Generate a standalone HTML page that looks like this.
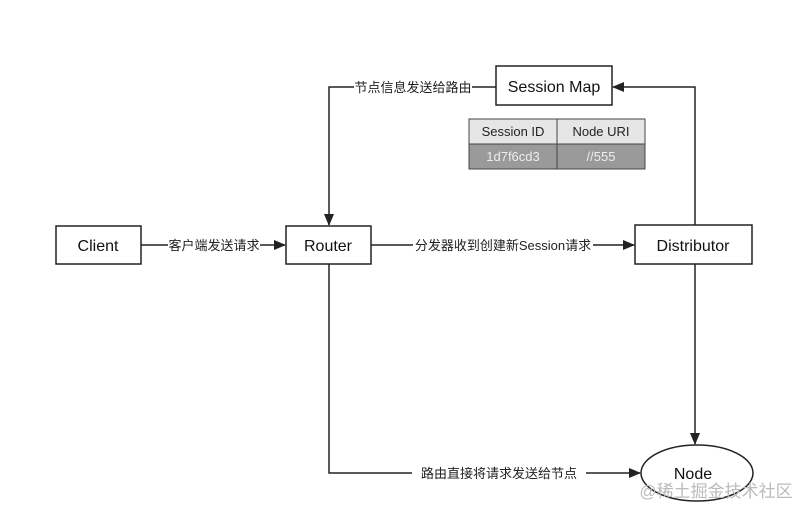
<!DOCTYPE html>
<html><head><meta charset="utf-8"><style>
body{margin:0;background:#fff;}
svg{display:block;font-family:"Liberation Sans","Noto Sans CJK SC",sans-serif;}
</style></head><body>
<svg width="800" height="516" viewBox="0 0 800 516" xmlns="http://www.w3.org/2000/svg">
<defs><marker id="a" markerWidth="12" markerHeight="10" refX="11" refY="5" orient="auto" markerUnits="userSpaceOnUse"><path d="M0,0 L12,5 L0,10 z" fill="#222"/></marker></defs>
<rect width="800" height="516" fill="#fff"/>
<g stroke="#222" stroke-width="1.5" fill="none">
<rect x="56" y="226" width="85" height="38" fill="#fff"/>
<rect x="286" y="226" width="85" height="38" fill="#fff"/>
<rect x="635" y="225" width="117" height="39" fill="#fff"/>
<rect x="496" y="66" width="116" height="39" fill="#fff"/>
<ellipse cx="697" cy="473" rx="56" ry="28" fill="#fff"/>
<line x1="141" y1="245" x2="285" y2="245" marker-end="url(#a)"/>
<line x1="371" y1="245" x2="634" y2="245" marker-end="url(#a)"/>
<polyline points="496,87 329,87 329,225" marker-end="url(#a)"/>
<polyline points="695,225 695,87 613,87" marker-end="url(#a)"/>
<line x1="695" y1="264" x2="695" y2="444" marker-end="url(#a)"/>
<polyline points="329,264 329,473 640,473" marker-end="url(#a)"/>
</g>
<g font-size="13" fill="#222" text-anchor="middle">
<rect x="168" y="236" width="92" height="18" fill="#fff"/>
<text x="214" y="250">客户端发送请求</text>
<rect x="413" y="236" width="180" height="18" fill="#fff"/>
<text x="503" y="250">分发器收到创建新Session请求</text>
<rect x="354" y="78" width="118" height="18" fill="#fff"/>
<text x="413" y="92">节点信息发送给路由</text>
<rect x="412" y="464" width="174" height="18" fill="#fff"/>
<text x="499" y="478">路由直接将请求发送给节点</text>
</g>
<g font-size="16" fill="#111" text-anchor="middle">
<text x="98" y="251">Client</text>
<text x="328" y="251">Router</text>
<text x="693" y="251">Distributor</text>
<text x="554" y="92">Session Map</text>
<text x="693" y="479">Node</text>
</g>
<g stroke="#444" stroke-width="1">
<rect x="469" y="119" width="176" height="25" fill="#e6e6e6"/>
<rect x="469" y="144" width="176" height="25" fill="#9a9a9a"/>
<line x1="557" y1="119" x2="557" y2="169"/>
</g>
<g font-size="13" text-anchor="middle">
<text x="513" y="136" fill="#222">Session ID</text>
<text x="601" y="136" fill="#222">Node URI</text>
<text x="513" y="161" fill="#eee">1d7f6cd3</text>
<text x="601" y="161" fill="#eee">//555</text>
</g>
<text x="716" y="497" font-size="17" fill="#bbb" text-anchor="middle" font-family="Liberation Sans,Noto Sans CJK SC,sans-serif">@稀土掘金技术社区</text>
</svg>
</body></html>
